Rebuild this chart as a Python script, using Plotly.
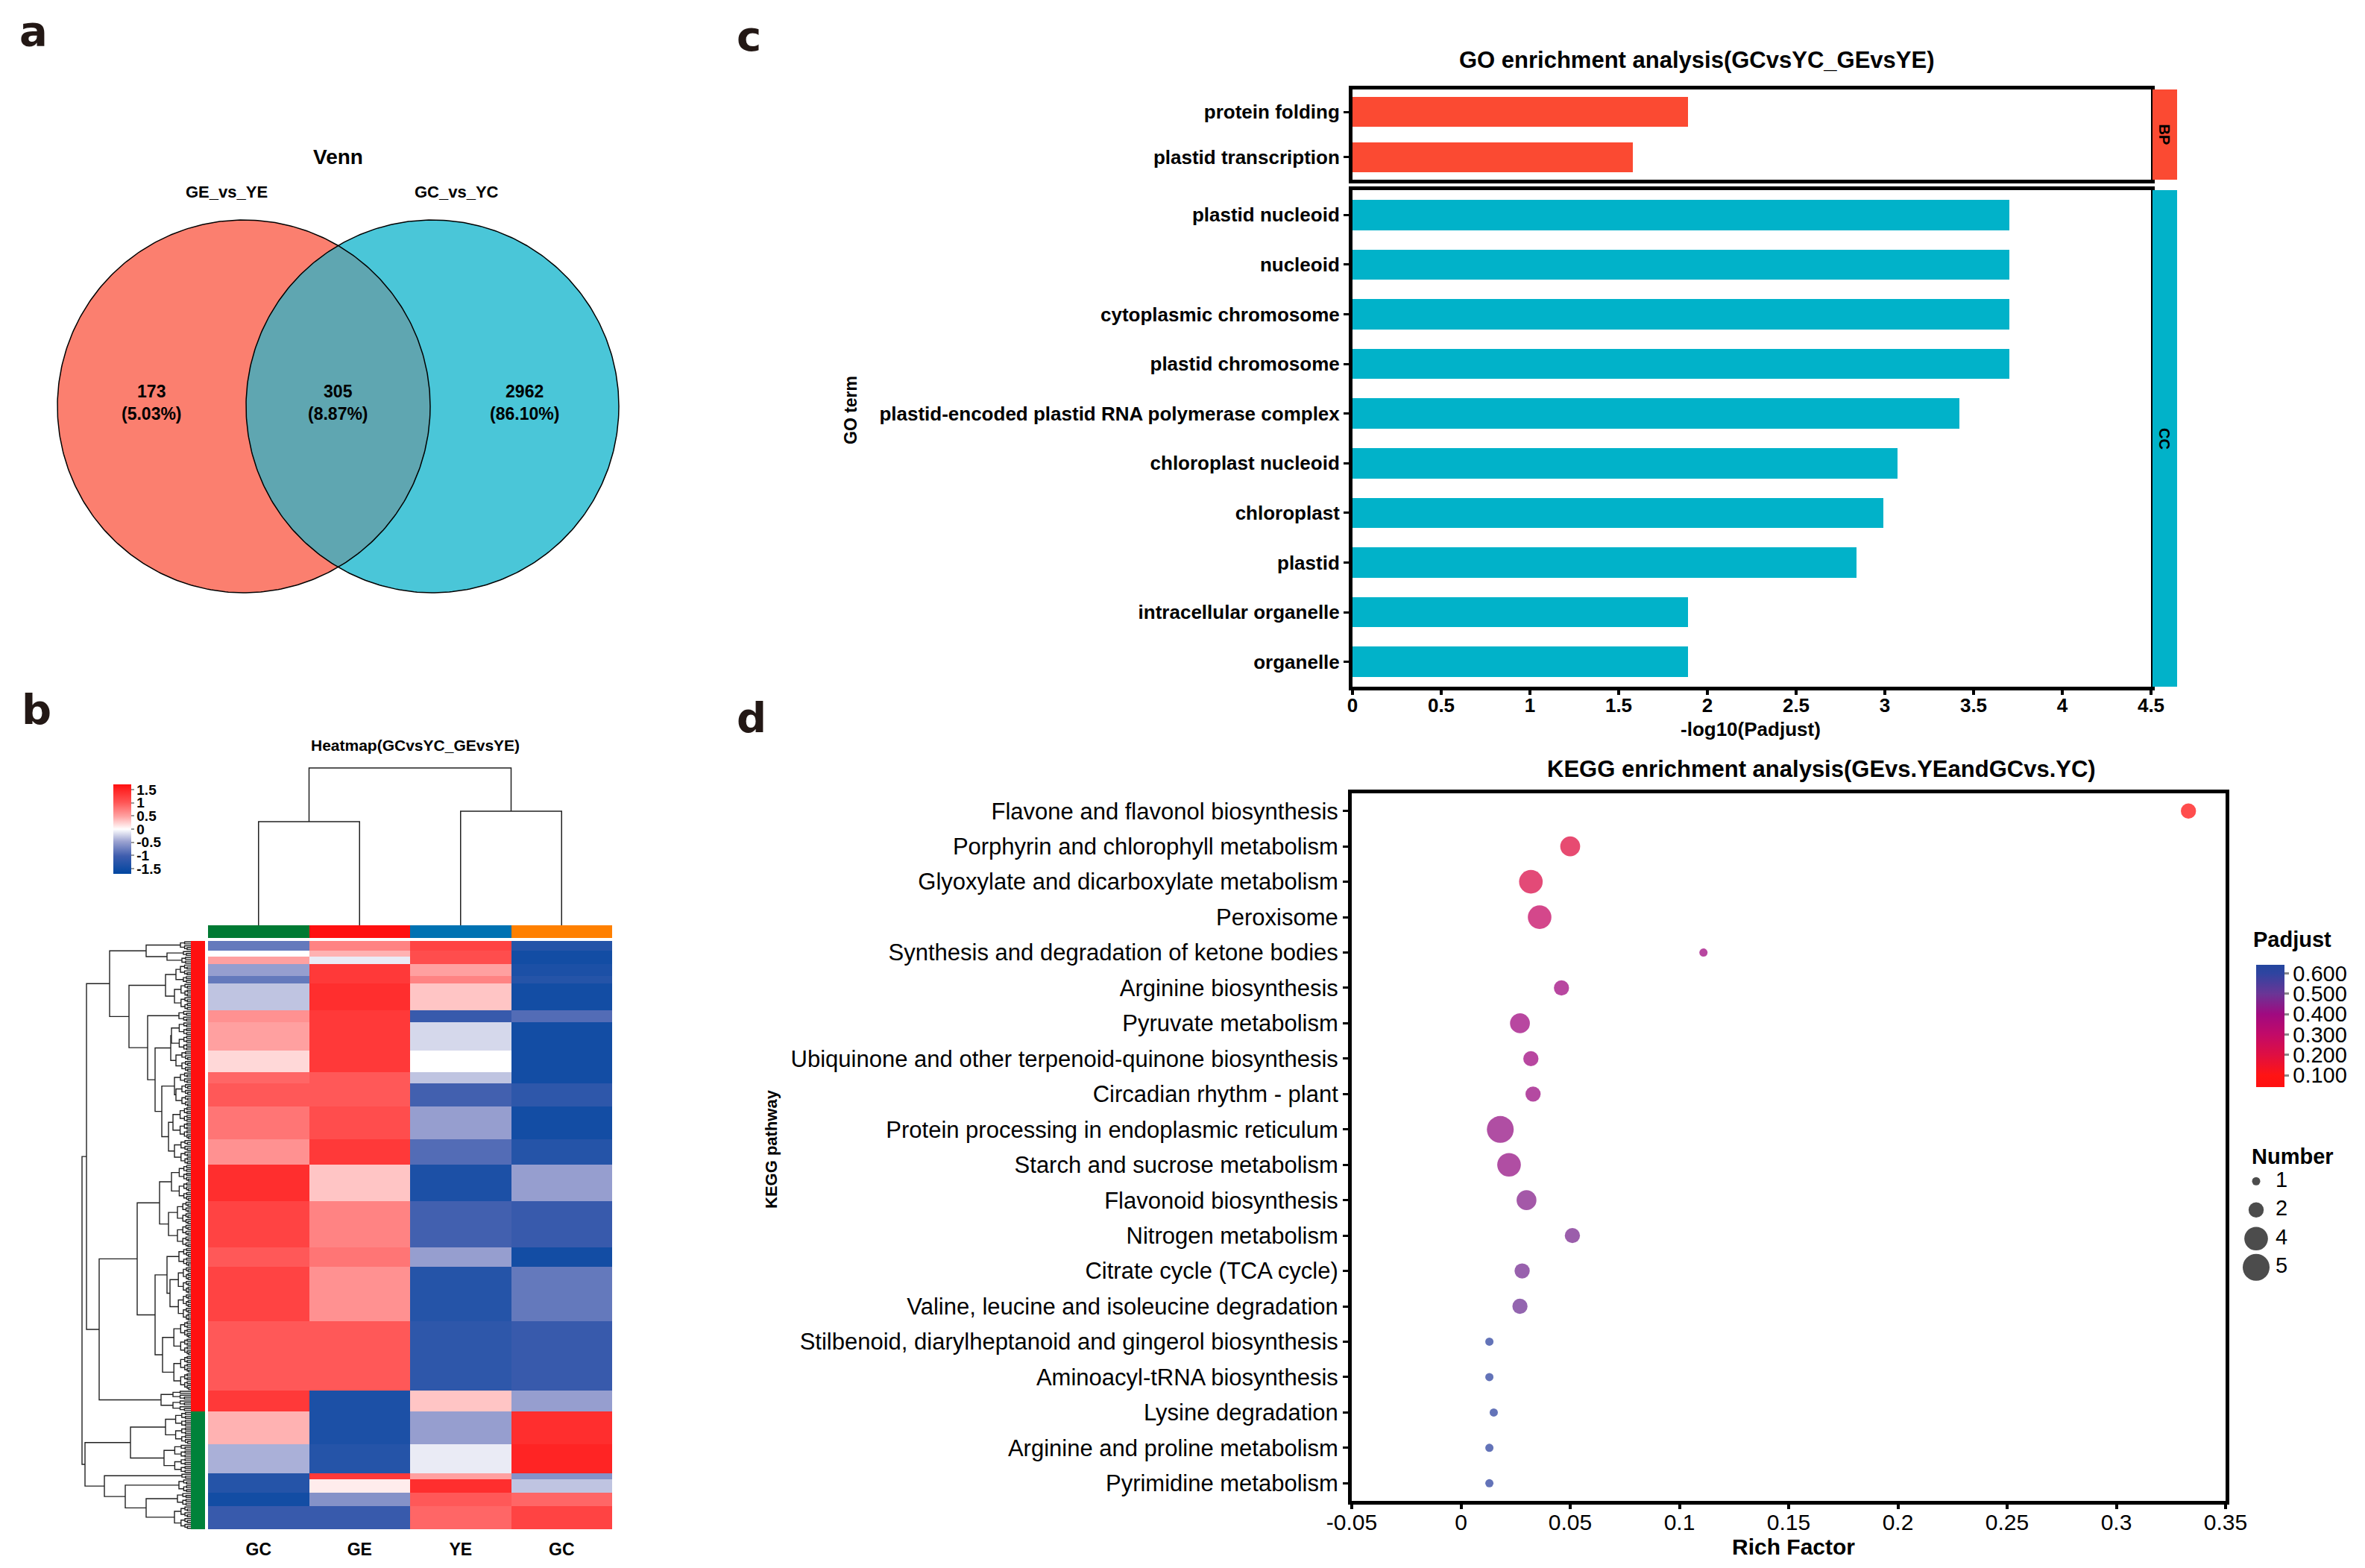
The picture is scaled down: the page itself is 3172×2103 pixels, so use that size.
import numpy as np
import plotly.graph_objects as go

W, H = 3172, 2103
OFF = 8  # browser default body margin
FONT = "Liberation Sans, Arial, Helvetica, sans-serif"

# ============================ DATA ============================
# (a) Venn
venn_labels = ["GE_vs_YE", "GC_vs_YC"]
venn_counts = [173, 305, 2962]            # GE only, shared, GC only
venn_percents = ["5.03%", "8.87%", "86.10%"]

# (c) GO enrichment
go_bp_terms = ["protein folding", "plastid transcription"]
go_bp_values = [1.89, 1.58]
go_cc_terms = ["plastid nucleoid", "nucleoid", "cytoplasmic chromosome", "plastid chromosome",
               "plastid-encoded plastid RNA polymerase complex", "chloroplast nucleoid",
               "chloroplast", "plastid", "intracellular organelle", "organelle"]
go_cc_values = [3.70, 3.70, 3.70, 3.70, 3.42, 3.07, 2.99, 2.84, 1.89, 1.89]
go_xticks = [0, 0.5, 1, 1.5, 2, 2.5, 3, 3.5, 4, 4.5]
go_xticklabels = ["0", "0.5", "1", "1.5", "2", "2.5", "3", "3.5", "4", "4.5"]

# (d) KEGG enrichment
kegg_pathways = ["Flavone and flavonol biosynthesis",
                 "Porphyrin and chlorophyll metabolism",
                 "Glyoxylate and dicarboxylate metabolism",
                 "Peroxisome",
                 "Synthesis and degradation of ketone bodies",
                 "Arginine biosynthesis",
                 "Pyruvate metabolism",
                 "Ubiquinone and other terpenoid-quinone biosynthesis",
                 "Circadian rhythm - plant",
                 "Protein processing in endoplasmic reticulum",
                 "Starch and sucrose metabolism",
                 "Flavonoid biosynthesis",
                 "Nitrogen metabolism",
                 "Citrate cycle (TCA cycle)",
                 "Valine, leucine and isoleucine degradation",
                 "Stilbenoid, diarylheptanoid and gingerol biosynthesis",
                 "Aminoacyl-tRNA biosynthesis",
                 "Lysine degradation",
                 "Arginine and proline metabolism",
                 "Pyrimidine metabolism"]
kegg_rich = [0.333, 0.050, 0.032, 0.036, 0.111, 0.046, 0.027, 0.032, 0.033, 0.018,
             0.022, 0.030, 0.051, 0.028, 0.027, 0.013, 0.013, 0.015, 0.013, 0.013]
kegg_number = [2, 3, 4, 4, 1, 2, 3, 2, 2, 5, 4, 3, 2, 2, 2, 1, 1, 1, 1, 1]
kegg_padj = [0.06, 0.20, 0.22, 0.29, 0.40, 0.40, 0.40, 0.40, 0.41, 0.42,
             0.42, 0.45, 0.47, 0.48, 0.49, 0.60, 0.60, 0.60, 0.60, 0.60]
kegg_xticks = [-0.05, 0, 0.05, 0.1, 0.15, 0.2, 0.25, 0.3, 0.35]
kegg_xticklabels = ["-0.05", "0", "0.05", "0.1", "0.15", "0.2", "0.25", "0.3", "0.35"]
padj_ticks = [0.1, 0.2, 0.3, 0.4, 0.5, 0.6]
padj_ticklabels = ["0.100", "0.200", "0.300", "0.400", "0.500", "0.600"]
number_legend = [1, 2, 4, 5]

# (b) Heatmap: row bands (genes per band) and z-scores per sample column
heat_samples = ["GC", "GE", "YE", "GC"]
band_rows = [5, 3, 4, 6, 4, 14, 6, 15, 11, 6, 12, 17, 13, 19, 24, 10, 28, 36, 11,
             17, 15, 3, 7, 7, 12]
band_GC = [-0.8, 0.0, 0.5, -0.5, -0.8, -0.3, 0.6, 0.5, 0.2, 0.9, 1.0, 0.8, 0.6, 1.4, 1.2,
           1.0, 1.2, 1.0, 1.3, 0.4, -0.4, -1.3, -1.3, -1.5, -1.1]
band_GE = [0.7, 0.4, -0.1, 1.3, 1.3, 1.4, 1.3, 1.3, 1.3, 1.0, 1.0, 1.1, 1.3, 0.3, 0.7,
           0.8, 0.6, 1.0, -1.4, -1.4, -1.3, 1.3, 0.1, -0.6, -1.1]
band_YE = [1.2, 1.1, 1.1, 0.5, 0.7, 0.3, -1.1, -0.2, 0.0, -0.3, -1.0, -0.5, -0.9, -1.4, -1.0,
           -0.5, -1.3, -1.2, 0.3, -0.5, -0.1, 0.5, 1.4, 1.0, 0.9]
band_GC2 = [-1.3, -1.5, -1.5, -1.4, -1.3, -1.5, -0.9, -1.5, -1.5, -1.5, -1.2, -1.5, -1.3, -0.5,
            -1.1, -1.5, -0.8, -1.1, -0.5, 1.4, 1.5, -0.6, -0.3, 0.9, 1.2]
band_cluster = [0] * 19 + [1] * 6
band_tree_height = [14, 10, 12, 14, 10, 22, 16, 26, 20, 14, 20, 24, 22, 26, 30, 16, 28, 38, 40,
                    34, 36, 12, 16, 18, 22]
# row dendrogram: [merge height, left, right]; ints are band indices
row_tree = [146,
            [140,
             [109, [60, 0, [32, 1, 2]],
                   [83, [34, [20, 3, 4], 5],
                        [58, 6, [48, [27, 7, 8], [39, [22, 9, 10], [30, 11, 12]]]]]],
             [123, [72, [42, 13, 14], [48, [32, 15, 16], 17]], 18]],
            [142, [81, 19, 20], [116, 21, [88, 22, [60, 23, 24]]]]]
col_tree = [211, [139, 0, 1], [153, 2, 3]]
heat_ticks = [1.5, 1, 0.5, 0, -0.5, -1, -1.5]
heat_ticklabels = ["1.5", "1", "0.5", "0", "-0.5", "-1", "-1.5"]

# ============================ HELPERS ============================
def dom_x(a, b):
    return [(a - OFF) / W, (b - OFF) / W]


def dom_y(top, bottom):
    return [1 - (bottom - OFF) / H, 1 - (top - OFF) / H]


def px(x):
    return (x - OFF) / W


def py(y):
    return 1 - (y - OFF) / H


def build_dendro(node, leaf_fn, segs):
    if isinstance(node, int):
        return leaf_fn(node, segs)
    h, a, b = node
    pa, ha = build_dendro(a, leaf_fn, segs)
    pb, hb = build_dendro(b, leaf_fn, segs)
    segs.append(((pa, ha), (pa, h), (pb, h), (pb, hb)))
    return (pa + pb) / 2, h


def band_subtree(r0, n, h, segs):
    if n == 1:
        return r0 + 0.5, 0.0
    k = n // 2
    pa, ha = band_subtree(r0, k, h * 0.6, segs)
    pb, hb = band_subtree(r0 + k, n - k, h * 0.6, segs)
    segs.append(((pa, ha), (pa, h), (pb, h), (pb, hb)))
    return (pa + pb) / 2, h


def segs_to_xy(segs, pos_is_y):
    xs, ys = [], []
    for seg in segs:
        for p, h in seg:
            if pos_is_y:
                xs.append(h); ys.append(p)
            else:
                xs.append(p); ys.append(h)
        xs.append(None); ys.append(None)
    return xs, ys


def bold(size):
    return dict(family=FONT, size=size, color="black", weight="bold")


def reg(size):
    return dict(family=FONT, size=size, color="black")


def note(x, y, text, font, xanchor="center", yanchor="middle", angle=0):
    return dict(x=px(x), y=py(y), xref="paper", yref="paper", text=text, font=font,
                xanchor=xanchor, yanchor=yanchor, textangle=angle, showarrow=False)


fig = go.Figure()
annotations = []
shapes = []

# ============================ (a) VENN ============================
R = 1.0
ctr = [-0.506, 0.506]
tt = np.linspace(0, 2 * np.pi, 400)
for cx, col in zip(ctr, ["#FB7F6F", "#4AC6D8"]):
    fig.add_trace(go.Scatter(x=cx + R * np.cos(tt), y=R * np.sin(tt), mode="lines",
                             fill="toself", fillcolor=col, line=dict(width=0),
                             hoverinfo="skip", showlegend=False, xaxis="x", yaxis="y"))
th0 = np.arccos(ctr[1] / R)
a1 = np.linspace(-th0, th0, 200)
a2 = np.linspace(np.pi - th0, np.pi + th0, 200)
lx = np.concatenate([ctr[0] + R * np.cos(a1), ctr[1] + R * np.cos(a2)])
ly = np.concatenate([R * np.sin(a1), R * np.sin(a2)])
fig.add_trace(go.Scatter(x=lx, y=ly, mode="lines", fill="toself", fillcolor="#5FA6B1",
                         line=dict(width=0), hoverinfo="skip", showlegend=False,
                         xaxis="x", yaxis="y"))
for cx in ctr:
    fig.add_trace(go.Scatter(x=cx + R * np.cos(tt), y=R * np.sin(tt), mode="lines",
                             line=dict(color="black", width=1.5), hoverinfo="skip",
                             showlegend=False, xaxis="x", yaxis="y"))
annotations.append(dict(x=0, y=1.34, xref="x", yref="y", text="Venn", showarrow=False,
                        xanchor="center", yanchor="middle", font=bold(28)))
annotations.append(dict(x=-0.60, y=1.15, xref="x", yref="y", text=venn_labels[0],
                        xanchor="center", yanchor="middle", showarrow=False, font=bold(22)))
annotations.append(dict(x=0.634, y=1.15, xref="x", yref="y", text=venn_labels[1],
                        xanchor="center", yanchor="middle", showarrow=False, font=bold(22)))
for xv, c, p in zip([-1.0, 0.0, 1.0], venn_counts, venn_percents):
    annotations.append(dict(x=xv, y=0.02, xref="x", yref="y", text=f"{c}<br>({p})",
                            xanchor="center", yanchor="middle", showarrow=False,
                            font=bold(23)))

# ============================ (c) GO ============================
fig.add_trace(go.Bar(x=go_bp_values, y=go_bp_terms, orientation="h", width=0.66,
                     marker=dict(color="#FB4A32", line=dict(width=0)), showlegend=False,
                     hoverinfo="skip", xaxis="x2", yaxis="y2"))
fig.add_trace(go.Bar(x=go_cc_values, y=go_cc_terms, orientation="h", width=0.61,
                     marker=dict(color="#01B2C9", line=dict(width=0)), showlegend=False,
                     hoverinfo="skip", xaxis="x3", yaxis="y3"))
GO_L, GO_R = 1814, 2885
BP_T, BP_B = 120, 241
CC_T, CC_B = 255, 921
shapes.append(dict(type="rect", xref="paper", yref="paper", x0=px(GO_R + 2), x1=px(2920),
                   y0=py(BP_B), y1=py(BP_T), fillcolor="#FB4A32", line=dict(width=0)))
shapes.append(dict(type="rect", xref="paper", yref="paper", x0=px(GO_R + 2), x1=px(2920),
                   y0=py(CC_B), y1=py(CC_T), fillcolor="#01B2C9", line=dict(width=0)))
annotations.append(note(2903, (BP_T + BP_B) / 2, "BP", bold(20), angle=90))
annotations.append(note(2903, (CC_T + CC_B) / 2, "CC", bold(20), angle=90))
annotations.append(note(2275, 80, "GO enrichment analysis(GCvsYC_GEvsYE)", bold(31)))
annotations.append(note(1141, 550, "GO term", bold(23), angle=-90))
annotations.append(note(2348, 978, "-log10(Padjust)", bold(26)))

# ============================ (d) KEGG ============================
n_min, n_max, d_min, d_max = 1, 5, 11, 36


def size_px(n):
    return float(np.sqrt(d_min ** 2 + (n - n_min) / (n_max - n_min) * (d_max ** 2 - d_min ** 2)))


padj_scale = [[0.0, "#FF1010"], [0.097, "#FF1414"], [0.263, "#DF0F42"], [0.43, "#C20A68"],
              [0.597, "#A00A80"], [0.763, "#6A3596"], [0.93, "#2F44A0"], [1.0, "#24469E"]]
fig.add_trace(go.Scatter(
    x=kegg_rich, y=kegg_pathways, mode="markers", showlegend=False, hoverinfo="skip",
    marker=dict(size=[size_px(n) for n in kegg_number], color=kegg_padj,
                colorscale=padj_scale, cmin=0.042, cmax=0.642, opacity=0.75,
                line=dict(width=0),
                colorbar=dict(x=px(3026), xanchor="left", xpad=0, y=py(1294), yanchor="top",
                              ypad=0, len=164, lenmode="pixels", thickness=38,
                              outlinewidth=0, tickvals=padj_ticks, ticktext=padj_ticklabels,
                              ticks="outside", ticklen=6, tickwidth=3, tickcolor="#888888",
                              tickfont=reg(29))),
    xaxis="x4", yaxis="y4"))
annotations.append(note(3020, 1260, "Padjust", bold(29), xanchor="left"))
# size legend ("Number")
fig.add_trace(go.Scatter(x=[26] * len(number_legend), y=list(range(len(number_legend))),
                         mode="markers", marker=dict(size=[size_px(n) for n in number_legend],
                                                     color="black", line=dict(width=0)),
                         showlegend=False, hoverinfo="skip", xaxis="x10", yaxis="y10"))
fig.add_trace(go.Scatter(x=[52] * len(number_legend), y=list(range(len(number_legend))),
                         mode="text", text=[str(n) for n in number_legend],
                         textposition="middle right", textfont=reg(29),
                         showlegend=False, hoverinfo="skip", xaxis="x10", yaxis="y10"))
annotations.append(note(3018, 1551, "Number", bold(29), xanchor="left"))
annotations.append(note(2443, 1031, "KEGG enrichment analysis(GEvs.YEandGCvs.YC)", bold(31)))
annotations.append(note(2405, 2074, "Rich Factor", bold(30)))
annotations.append(note(1034, 1541, "KEGG pathway", bold(22), angle=-90))

# ============================ (b) HEATMAP ============================
edges = np.concatenate([[0], np.cumsum(band_rows)]).tolist()
n_total = edges[-1]
z = [[a, b, c, d] for a, b, c, d in zip(band_GC, band_GE, band_YE, band_GC2)]
heat_scale = [[0.0, "#0046A0"], [0.2, "#3F5DAE"], [0.36, "#9AA1D0"], [0.5, "#FFFFFF"],
              [0.64, "#FFA3A3"], [0.8, "#FF5555"], [1.0, "#FF1010"]]
fig.add_trace(go.Heatmap(
    z=z, x=[0, 1, 2, 3], y=edges, zmin=-1.7, zmax=1.7, colorscale=heat_scale,
    hoverinfo="skip",
    colorbar=dict(x=px(152), xanchor="left", xpad=0, y=py(1052), yanchor="top", ypad=0,
                  len=120, lenmode="pixels", thickness=24, outlinewidth=0,
                  tickvals=heat_ticks, ticktext=heat_ticklabels, ticks="outside", ticklen=4,
                  tickwidth=2, tickcolor="#999999", tickfont=bold(19)),
    xaxis="x5", yaxis="y5"))
# column annotation bar
fig.add_trace(go.Heatmap(z=[[0, 1, 2, 3]], x=[0, 1, 2, 3], y=[0], zmin=0, zmax=3,
                         colorscale=[[0, "#007A33"], [0.25, "#007A33"], [0.25, "#FF1010"],
                                     [0.5, "#FF1010"], [0.5, "#0072B2"], [0.75, "#0072B2"],
                                     [0.75, "#FF8000"], [1, "#FF8000"]],
                         showscale=False, hoverinfo="skip", xaxis="x6", yaxis="y6"))
# row annotation bar
fig.add_trace(go.Heatmap(z=[[c] for c in band_cluster], x=[0], y=edges, zmin=0, zmax=1,
                         colorscale=[[0, "#FF1010"], [0.5, "#FF1010"], [0.5, "#00823A"],
                                     [1, "#00823A"]],
                         showscale=False, hoverinfo="skip", xaxis="x8", yaxis="y8"))
# column dendrogram
csegs = []
build_dendro(col_tree, lambda i, s: (float(i), 0.0), csegs)
cx_, cy_ = segs_to_xy(csegs, pos_is_y=False)
fig.add_trace(go.Scatter(x=cx_, y=cy_, mode="lines", line=dict(color="#222222", width=1.5),
                         hoverinfo="skip", showlegend=False, xaxis="x7", yaxis="y7"))
# row dendrogram
rsegs = []
build_dendro(row_tree,
             lambda i, s: band_subtree(edges[i], band_rows[i], band_tree_height[i], s), rsegs)
rx_, ry_ = segs_to_xy(rsegs, pos_is_y=True)
fig.add_trace(go.Scatter(x=rx_, y=ry_, mode="lines", line=dict(color="#222222", width=1.4),
                         hoverinfo="skip", showlegend=False, xaxis="x9", yaxis="y9"))
annotations.append(note(557, 999, "Heatmap(GCvsYC_GEvsYE)", bold(21)))

# panel letters
for letter, xl, yc in [("a", 24, 42), ("b", 27, 951), ("c", 986, 48), ("d", 986, 962)]:
    annotations.append(note(xl, yc, letter,
                            dict(family="DejaVu Sans, " + FONT, size=56, color="#231815",
                                 weight="bold"), xanchor="left"))

# ============================ AXES ============================
hidden = dict(visible=False, showgrid=False, zeroline=False, automargin=False)
PXU = 250.0
VX, VY = 453.5, 545.0
layout_axes = dict(
    xaxis=dict(hidden, domain=dom_x(VX - 1.58 * PXU, VX + 1.58 * PXU), range=[-1.58, 1.58],
               anchor="y"),
    yaxis=dict(hidden, domain=dom_y(VY - 1.5 * PXU, VY + 1.12 * PXU), range=[-1.12, 1.5],
               anchor="x"),
    # GO BP
    xaxis2=dict(domain=dom_x(GO_L, GO_R), range=[0, 4.5], anchor="y2", showline=True,
                mirror=True, linewidth=5, linecolor="black", showticklabels=False, ticks="",
                showgrid=False, zeroline=False, automargin=False),
    yaxis2=dict(domain=dom_y(BP_T, BP_B), anchor="x2", type="category",
                categoryorder="array", categoryarray=go_bp_terms,
                range=[len(go_bp_terms) - 0.5, -0.5], showline=True, mirror=True,
                linewidth=5, linecolor="black", ticks="outside", ticklen=7, tickwidth=3,
                tickcolor="black", tickfont=bold(26), showgrid=False, zeroline=False,
                automargin=False),
    # GO CC
    xaxis3=dict(domain=dom_x(GO_L, GO_R), range=[0, 4.5], anchor="y3", showline=True,
                mirror=True, linewidth=5, linecolor="black", tickvals=go_xticks,
                ticktext=go_xticklabels, ticks="outside", ticklen=6, tickwidth=4,
                ticklabelstandoff=-8,
                tickcolor="black", tickfont=bold(26), showgrid=False, zeroline=False,
                automargin=False),
    yaxis3=dict(domain=dom_y(CC_T, CC_B), anchor="x3", type="category",
                categoryorder="array", categoryarray=go_cc_terms,
                range=[len(go_cc_terms) - 0.5, -0.5], showline=True, mirror=True,
                linewidth=5, linecolor="black", ticks="outside", ticklen=7, tickwidth=3,
                tickcolor="black", tickfont=bold(26), showgrid=False, zeroline=False,
                automargin=False),
    # KEGG
    xaxis4=dict(domain=dom_x(1813, 2985), range=[-0.05, 0.35], anchor="y4", showline=True,
                mirror=True, linewidth=5, linecolor="black", tickvals=kegg_xticks,
                ticktext=kegg_xticklabels, ticks="outside", ticklen=6, tickwidth=4,
                ticklabelstandoff=-8,
                tickcolor="black", tickfont=reg(30), showgrid=False, zeroline=False,
                automargin=False),
    yaxis4=dict(domain=dom_y(1064, 2013), anchor="x4", type="category",
                categoryorder="array", categoryarray=kegg_pathways,
                range=[len(kegg_pathways) - 0.5, -0.5], showline=True, mirror=True,
                linewidth=5, linecolor="black", ticks="outside", ticklen=7, tickwidth=3,
                tickcolor="black", tickfont=reg(31), showgrid=False, zeroline=False,
                automargin=False),
    # heatmap
    xaxis5=dict(domain=dom_x(279, 821), range=[-0.5, 3.5], anchor="y5", tickvals=[0, 1, 2, 3],
                ticktext=heat_samples, ticks="outside", ticklen=6,
                tickcolor="rgba(0,0,0,0)", tickfont=bold(23), showline=False,
                showgrid=False, zeroline=False, automargin=False),
    yaxis5=dict(hidden, domain=dom_y(1262, 2051), range=[n_total, 0], anchor="x5"),
    xaxis6=dict(hidden, domain=dom_x(279, 821), range=[-0.5, 3.5], anchor="y6"),
    yaxis6=dict(hidden, domain=dom_y(1241, 1258), range=[-0.5, 0.5], anchor="x6"),
    xaxis7=dict(hidden, domain=dom_x(279, 821), range=[-0.5, 3.5], anchor="y7"),
    yaxis7=dict(hidden, domain=dom_y(1028, 1241), range=[0, 213], anchor="x7"),
    xaxis8=dict(hidden, domain=dom_x(256, 275), range=[-0.5, 0.5], anchor="y8"),
    yaxis8=dict(hidden, domain=dom_y(1262, 2051), range=[n_total, 0], anchor="x8"),
    xaxis9=dict(hidden, domain=dom_x(108, 256), range=[148, 0], anchor="y9"),
    yaxis9=dict(hidden, domain=dom_y(1262, 2051), range=[n_total, 0], anchor="x9"),
    # size legend
    xaxis10=dict(hidden, domain=dom_x(3000, 3120), range=[0, 120], anchor="y10"),
    yaxis10=dict(hidden, domain=dom_y(1565, 1719), range=[3.5, -0.5], anchor="x10"),
)

fig.update_layout(
    template="none",
    width=W, height=H, autosize=False,
    margin=dict(l=0, r=0, t=0, b=0, pad=0),
    paper_bgcolor="white", plot_bgcolor="rgba(0,0,0,0)",
    font=dict(family=FONT, color="black"),
    showlegend=False,
    annotations=annotations,
    shapes=shapes,
    bargap=0,
    **layout_axes,
)

fig.write_html("out.html")
